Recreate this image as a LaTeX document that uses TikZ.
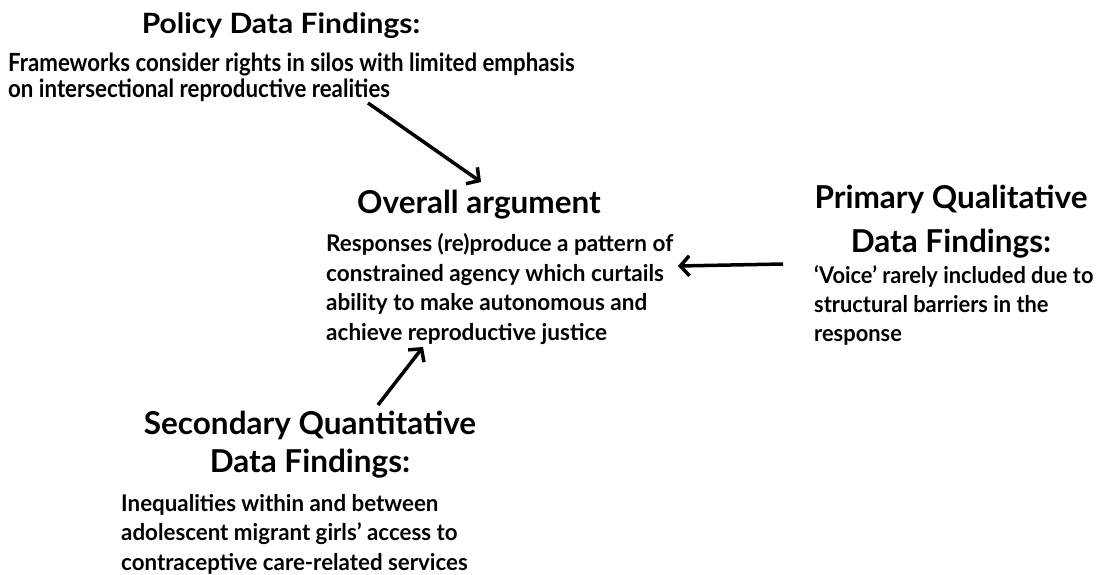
\documentclass[tikz,border=0pt]{standalone}
\usepackage{fontspec}
\setmainfont{Lato}
\usetikzlibrary{arrows.meta}
\begin{document}
\begin{tikzpicture}[x=1pt,y=-1pt,
  head/.style={font=\fontsize{31.5}{40}\selectfont\bfseries, inner sep=0pt, align=center},
  body/.style={font=\fontsize{23}{29.5}\selectfont\bfseries, inner sep=0pt, align=left},
  arr/.style={line width=3.5pt, -{Straight Barb[length=9pt,width=20pt]}}]
\useasboundingbox (0,0) rectangle (1102,574);
\node[head, font=\fontsize{28}{30}\selectfont\bfseries\addfontfeature{FakeStretch=1.07}, anchor=base] (ph) at (281,33) {Policy Data Findings:};
\node[body, font=\fontsize{25}{26}\selectfont\bfseries\addfontfeature{FakeStretch=0.89}, anchor=base west] (pb) at (8,97)
  {Frameworks consider rights in silos with limited emphasis\\on intersectional reproductive realities};
\node[head, anchor=base] (oh) at (479,213) {Overall argument};
\node[body, font=\fontsize{23}{29.5}\selectfont\bfseries\addfontfeature{FakeStretch=0.98}, anchor=base west] (ob) at (326,340)
  {Responses (re)produce a pattern of\\constrained agency which curtails\\ability to make autonomous and\\achieve reproductive justice};
\node[head, font=\fontsize{31.5}{44}\selectfont\bfseries, anchor=base] (qh) at (951,252) {Primary Qualitative\\Data Findings:};
\node[body, font=\fontsize{23}{29}\selectfont\bfseries\addfontfeature{FakeStretch=0.95}, anchor=base west] (qb) at (814,341)
  {‘Voice’ rarely included due to\\structural barriers in the\\response};
\node[head, font=\fontsize{31.5}{38}\selectfont\bfseries, anchor=base] (sh) at (310,472) {Secondary Quantitative\\Data Findings:};
\node[body, font=\fontsize{23}{29.5}\selectfont\bfseries\addfontfeature{FakeStretch=0.97}, anchor=base west] (sb) at (121,570)
  {Inequalities within and between\\adolescent migrant girls’ access to\\contraceptive care-related services};
\coordinate (a1s) at (368,103);
\coordinate (a1e) at (481,182);
\coordinate (a2s) at (783,264);
\coordinate (a2e) at (678,266);
\coordinate (a3s) at (378,405);
\coordinate (a3e) at (423,347);
\draw[arr] (a1s) -- (a1e);
\draw[arr] (a2s) -- (a2e);
\draw[arr] (a3s) -- (a3e);
\end{tikzpicture}
\end{document}
